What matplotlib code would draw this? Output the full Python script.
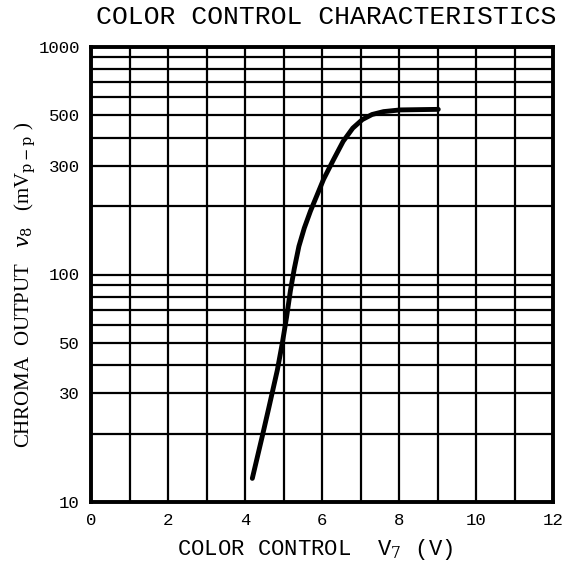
import numpy as np
import matplotlib
matplotlib.use("agg")
import matplotlib.pyplot as plt

# curve (V7 in volts, chroma output in mVp-p)
v7 = [4.19, 4.45, 4.62, 4.84, 4.97, 5.08, 5.18, 5.28, 5.40, 5.54, 5.70,
      5.87, 6.04, 6.30, 6.55, 6.80, 7.05, 7.30, 7.60, 8.03, 9.02]
chroma = [12.7, 19.5, 26, 38, 50, 65, 85, 106, 133, 160, 190,
          223, 262, 320, 385, 440, 480, 505, 520, 529, 532]

xticks = [0, 2, 4, 6, 8, 10, 12]
yticks = [10, 30, 50, 100, 300, 500, 1000]
ygrid = [10, 20, 30, 40, 50, 60, 70, 80, 90,
         100, 200, 300, 400, 500, 600, 700, 800, 900, 1000]
xgrid = list(range(0, 13))

mono = "Liberation Mono"
serif = "Liberation Serif"
plt.rcParams['mathtext.fontset'] = 'dejavuserif'

fig = plt.figure(figsize=(5.75, 5.67), dpi=100)
ax = fig.add_axes([91/575, 1-502/567, (553-91)/575, (502-47)/567])

ax.set_yscale('log')
ax.set_xlim(0, 12)
ax.set_ylim(10, 1000)

for g in ygrid:
    ax.axhline(g, color='black', lw=1.6, zorder=1)
for g in xgrid:
    ax.axvline(g, color='black', lw=1.6, zorder=1)

ax.plot(v7, chroma, color='black', lw=3.5, solid_capstyle='round',
        solid_joinstyle='round', zorder=3)

ax.set_xticks(xticks)
ax.set_xticklabels([str(t) for t in xticks], fontfamily=mono, fontsize=12.5)
ax.set_yticks(yticks)
ax.set_yticklabels([str(t) for t in yticks], fontfamily=mono, fontsize=12.5)
ax.yaxis.set_minor_locator(matplotlib.ticker.NullLocator())
ax.tick_params(axis='both', length=0)
ax.tick_params(axis='x', pad=8)
ax.tick_params(axis='y', pad=8)

for s in ax.spines.values():
    s.set_linewidth(2.8)

fig.text(326/575, 1-17/567, "COLOR CONTROL CHARACTERISTICS",
         fontfamily=mono, fontsize=19, ha='center', va='center')
fig.text(315/575, 1-550/567, "COLOR CONTROL  V$_7$ (V)",
         fontfamily=mono, fontsize=16, ha='center', va='center')
fig.text(25/575, 1-285/567, "CHROMA  OUTPUT   $\\mathit{v}_{8}$   (mV$_{\\mathrm{p-p}}$ )",
         fontfamily=serif, fontsize=15, rotation=90, ha='center', va='center')

plt.savefig("out.png", dpi=100)
plt.close()
